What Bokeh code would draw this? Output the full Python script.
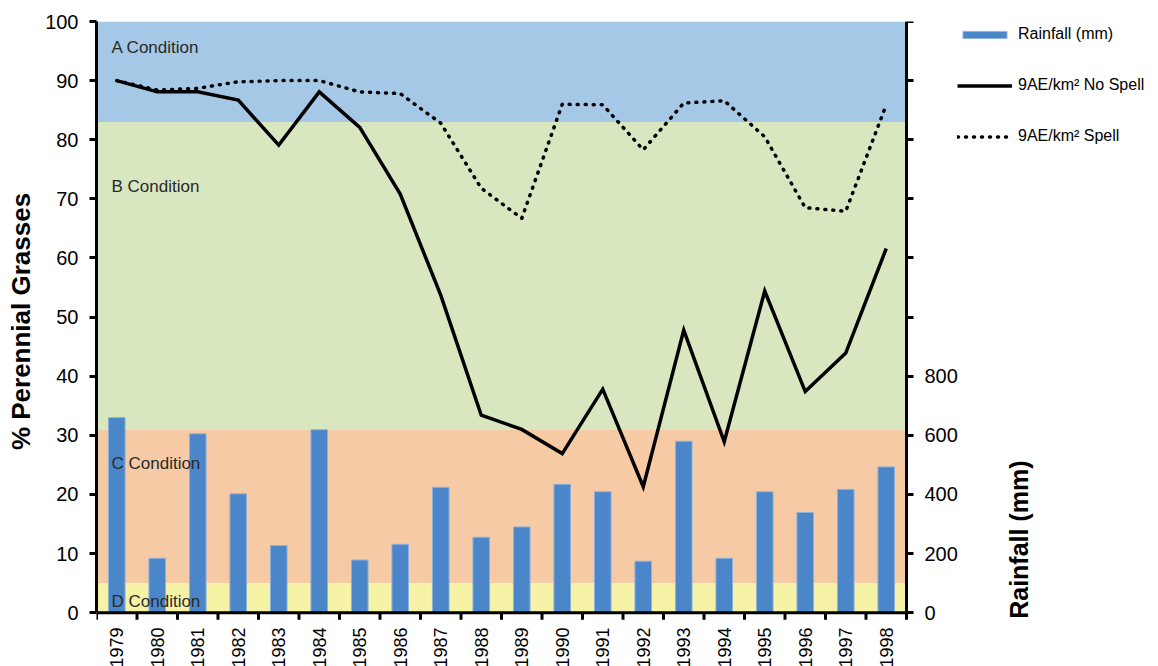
import math
from bokeh.plotting import figure
from bokeh.models import (Range1d, LinearAxis, FixedTicker, Legend,
                          LegendItem, Label, ColumnDataSource)
from bokeh.core.properties import value
from bokeh.embed import file_html
from bokeh.resources import INLINE

# ---------------- data ----------------
years = list(range(1979, 1999))
rainfall_mm = [660, 184, 605, 402, 227, 619, 178, 231, 424, 255,
               290, 434, 409, 174, 580, 184, 409, 339, 417, 493]
no_spell = [90.0, 88.1, 88.1, 86.7, 79.1, 88.1, 82.1, 70.8, 53.7, 33.4,
            31.0, 26.9, 37.8, 21.3, 47.8, 28.9, 54.4, 37.4, 43.9, 61.6]
spell = [90.0, 88.4, 88.7, 89.8, 90.0, 90.0, 88.1, 87.8, 82.8, 71.8,
         66.7, 86.0, 85.9, 78.3, 86.2, 86.6, 80.5, 68.5, 67.9, 85.9]

condition_names = ["A Condition", "B Condition", "C Condition", "D Condition"]
condition_bottom = [83, 31, 5, 0]
condition_top = [100, 83, 31, 5]
condition_label_y = [95.6, 72.1, 25.2, 1.9]

left_ticks = list(range(0, 101, 10))
rain_ticks = list(range(0, 2001, 200))
rain_labelled_max = 800
rain_max = 2000

# ---------------- styling / geometry ----------------
FONT = "Liberation Sans"
band_colors = ["#a4c8e5", "#d8e7c0", "#f7caa6", "#f7f3a6"]
bar_color = "#4b87c8"

PX_PER_YEAR = 40.5     # horizontal pixels per category
PX_PER_PCT = 5.91      # vertical pixels per % unit
FRAME_W = 1056         # frame reaches the right edge so the legend fits inside
Y_PAD = 1.5            # small room below 0 so bottom texts are not clipped

x0 = years[0] - 0.5
x1 = years[-1] + 0.5
x_end = x0 + FRAME_W / PX_PER_YEAR
frame_h = int(round((100 + Y_PAD) * PX_PER_PCT))

p = figure(frame_width=FRAME_W, frame_height=frame_h,
           min_border_left=96, min_border_right=0,
           min_border_top=21, min_border_bottom=42,
           x_range=Range1d(x0, x_end),
           y_range=Range1d(-Y_PAD, 100),
           output_backend="svg", toolbar_location=None,
           background_fill_color="white", border_fill_color="white")
p.extra_y_ranges = {"rain": Range1d(-Y_PAD * rain_max / 100, rain_max)}
p.outline_line_color = None
p.grid.visible = False

# background condition bands
p.quad(left=[x0] * 4, right=[x1] * 4, bottom=condition_bottom, top=condition_top,
       fill_color=band_colors, line_color=None)

# rainfall bars
src = ColumnDataSource(dict(year=years, rain=rainfall_mm, ns=no_spell, sp=spell))
bars = p.vbar(x="year", top="rain", width=0.41, bottom=0, source=src,
              y_range_name="rain", fill_color=bar_color, line_color="#8db2dd",
              line_width=1)

# condition labels
p.text(x=[x0 + 0.37] * 4, y=condition_label_y, text=condition_names,
       text_font=value(FONT), text_font_size="17px", text_color="#2a2a2a",
       text_align="left", text_baseline="middle")

# lines
l1 = p.line(x="year", y="ns", source=src, line_color="black", line_width=3.5,
            line_join="miter")
l2 = p.line(x="year", y="sp", source=src, line_color="black", line_width=3.5,
            line_dash="1 7", line_cap="round")

# x baseline at 0 and category boundary ticks
boundaries = [y - 0.5 for y in years] + [x1]
tick_len = 7 / PX_PER_PCT
p.segment(x0=[x0], y0=[0], x1=[x1], y1=[0], line_color="black", line_width=3)
p.segment(x0=boundaries, y0=[0] * len(boundaries), x1=boundaries,
          y1=[-tick_len] * len(boundaries), line_color="black", line_width=3)

# bottom axis: labels only
ax = p.xaxis[0]
ax.ticker = FixedTicker(ticks=years)
ax.major_label_overrides = {y: str(y) for y in years}
ax.axis_line_color = None
ax.major_tick_line_color = None
ax.minor_tick_line_color = None
ax.major_label_orientation = math.pi / 2
ax.major_label_standoff = 0
ax.major_label_text_font = FONT
ax.major_label_text_font_size = "18px"
ax.major_label_text_color = "black"

ay = p.yaxis[0]
ay.bounds = (0, 100)
ay.ticker = FixedTicker(ticks=left_ticks)
ay.axis_line_width = 3
ay.major_tick_line_width = 3
ay.major_tick_out = 7
ay.major_tick_in = 0
ay.minor_tick_line_color = None
ay.major_label_standoff = 11
ay.major_label_text_font = FONT
ay.major_label_text_font_size = "20px"
ay.major_label_text_color = "black"
ay.axis_label = "% Perennial Grasses"
ay.axis_label_text_font = FONT
ay.axis_label_text_font_size = "26px"
ay.axis_label_text_font_style = "bold"
ay.axis_label_text_color = "black"
ay.axis_label_standoff = 6

ar = LinearAxis(y_range_name="rain", fixed_location=x1, bounds=(0, rain_max),
                ticker=FixedTicker(ticks=rain_ticks),
                major_label_overrides={v: "" for v in rain_ticks if v > rain_labelled_max})
ar.axis_line_width = 3
ar.major_tick_line_width = 3
ar.major_tick_out = 7
ar.major_tick_in = 0
ar.minor_tick_line_color = None
ar.major_label_standoff = 11
ar.major_label_text_font = FONT
ar.major_label_text_font_size = "20px"
ar.major_label_text_color = "black"
p.add_layout(ar, "right")

p.add_layout(Label(x=x1 + 112 / PX_PER_YEAR, y=12.35,
                   text="Rainfall (mm)", angle=math.pi / 2,
                   text_font=FONT, text_font_size="25px", text_font_style="bold",
                   text_color="black", text_align="center", text_baseline="middle"))

legend = Legend(items=[LegendItem(label="Rainfall (mm)", renderers=[bars]),
                       LegendItem(label="9AE/km² No Spell", renderers=[l1]),
                       LegendItem(label="9AE/km² Spell", renderers=[l2])],
                location=(861, 467 + int(Y_PAD * PX_PER_PCT)),
                padding=2, margin=0, spacing=31,
                glyph_width=55, glyph_height=9, label_height=20,
                label_standoff=6, border_line_color=None,
                background_fill_alpha=0, label_text_font=FONT,
                label_text_font_size="16px", label_text_color="black")
p.add_layout(legend)

open("out.html", "w").write(file_html(p, INLINE))
